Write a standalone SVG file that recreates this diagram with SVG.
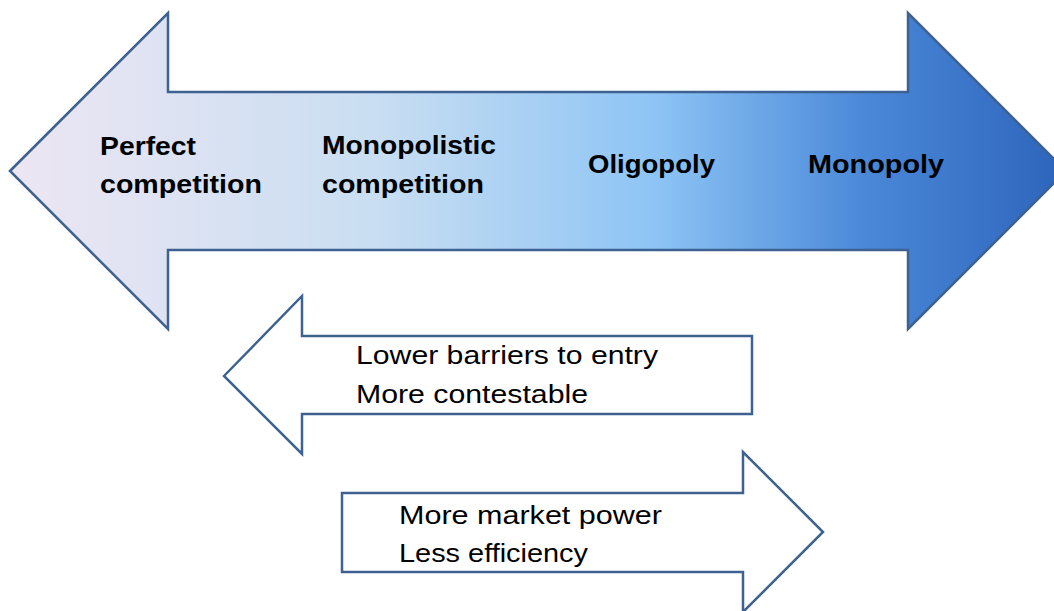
<svg xmlns="http://www.w3.org/2000/svg" width="1054" height="611" viewBox="0 0 1054 611">
<defs>
<linearGradient id="g" x1="10" y1="0" x2="1054" y2="0" gradientUnits="userSpaceOnUse">
<stop offset="0" stop-color="#ede6f3"/>
<stop offset="0.35" stop-color="#c9def2"/>
<stop offset="0.62" stop-color="#8dc4f5"/>
<stop offset="0.82" stop-color="#4a88d8"/>
<stop offset="1" stop-color="#2f66bd"/>
</linearGradient>
<style>
.arrow{stroke:#3d6190;stroke-width:2.5;stroke-linejoin:miter}
.b{font-family:"Liberation Sans",Arial,sans-serif;font-weight:bold;font-size:25px;fill:#000}
.r{font-family:"Liberation Sans",Arial,sans-serif;font-size:26px;fill:#000}
</style>
</defs>
<rect width="1054" height="611" fill="#fff"/>
<g id="scale">
<path class="arrow" fill="url(#g)" d="M10,171 L168,13 L168,92 L908,92 L908,13 L1066,171 L908,329 L908,250 L168,250 L168,329 Z"/>
<text class="b" x="100" y="155" textLength="96" lengthAdjust="spacingAndGlyphs">Perfect</text>
<text class="b" x="100" y="193" textLength="162" lengthAdjust="spacingAndGlyphs">competition</text>
<text class="b" x="322" y="154" textLength="174" lengthAdjust="spacingAndGlyphs">Monopolistic</text>
<text class="b" x="322" y="193" textLength="162" lengthAdjust="spacingAndGlyphs">competition</text>
<text class="b" x="588" y="173" textLength="127" lengthAdjust="spacingAndGlyphs">Oligopoly</text>
<text class="b" x="808" y="173" textLength="136" lengthAdjust="spacingAndGlyphs">Monopoly</text>
</g>
<g id="left-arrow">
<path class="arrow" fill="#fff" d="M224,376 L302,296 L302,336 L752,336 L752,414 L302,414 L302,454 Z"/>
<text class="r" x="356" y="364" textLength="302" lengthAdjust="spacingAndGlyphs">Lower barriers to entry</text>
<text class="r" x="356" y="403" textLength="232" lengthAdjust="spacingAndGlyphs">More contestable</text>
</g>
<g id="right-arrow">
<path class="arrow" fill="#fff" d="M342,493 L743,493 L743,452 L823,532 L743,612 L743,572 L342,572 Z"/>
<text class="r" x="399" y="524" textLength="263" lengthAdjust="spacingAndGlyphs">More market power</text>
<text class="r" x="399" y="562" textLength="189" lengthAdjust="spacingAndGlyphs">Less efficiency</text>
</g>
</svg>
